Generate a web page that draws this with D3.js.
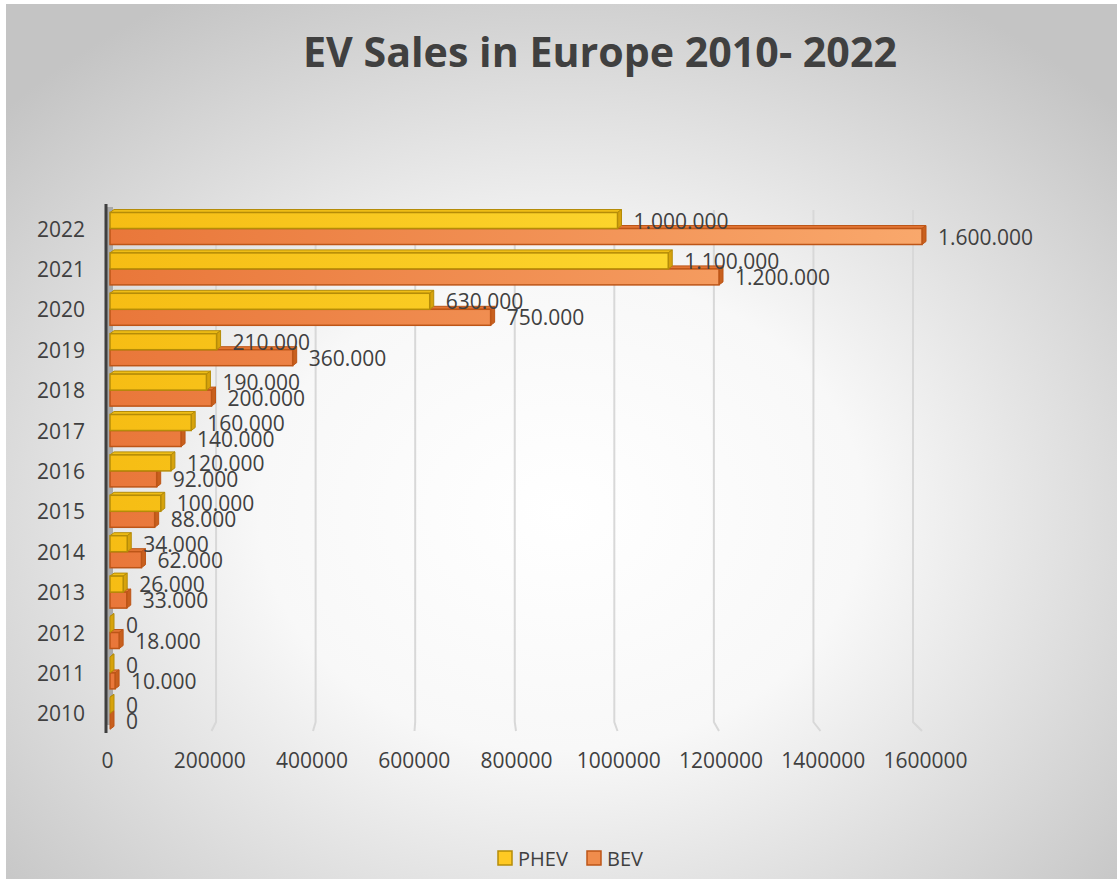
<!DOCTYPE html>
<html>
<head>
<meta charset="utf-8">
<script src="https://cdn.jsdelivr.net/npm/d3@7"></script>
<style>
  body { margin: 0; background: #fff; }
  text { font-family: "Open Sans", sans-serif; fill: #404040; }
</style>
</head>
<body>
<script>
// data
var years = ["2010","2011","2012","2013","2014","2015","2016","2017","2018","2019","2020","2021","2022"];
var phev = [0, 0, 0, 26000, 34000, 100000, 120000, 160000, 190000, 210000, 630000, 1100000, 1000000];
var bev = [0, 10000, 18000, 33000, 62000, 88000, 92000, 140000, 200000, 360000, 750000, 1200000, 1600000];
var seriesNames = ["PHEV", "BEV"];
var xTicks = [0, 200000, 400000, 600000, 800000, 1000000, 1200000, 1400000, 1600000];

var W = 1117, H = 879;
var svg = d3.select("body").append("svg")
  .attr("width", W)
  .attr("height", H);

var defs = svg.append("defs");
var bg = defs.append("radialGradient").attr("id", "bg")
  .attr("cx", "50%").attr("cy", "58%").attr("r", "68%");
bg.append("stop").attr("offset", "0%").attr("stop-color", "#ffffff");
bg.append("stop").attr("offset", "40%").attr("stop-color", "#f8f8f8");
bg.append("stop").attr("offset", "100%").attr("stop-color", "#c4c4c4");

// bar colours, lighter toward the right like the excel lighting
var colors = {
  PHEV: { left: "#f6bd14", right: "#ffe23a", stroke: "#b58c08", side: "#d7a30c", top: "#efbd16" },
  BEV:  { left: "#e9773a", right: "#f9a86c", stroke: "#bd5517", side: "#c8601e", top: "#e27534" }
};
seriesNames.forEach(function(s){
  var g = defs.append("linearGradient").attr("id", "g" + s)
    .attr("gradientUnits", "userSpaceOnUse")
    .attr("x1", 110).attr("x2", 925).attr("y1", 0).attr("y2", 0);
  g.append("stop").attr("offset", "0%").attr("stop-color", colors[s].left);
  g.append("stop").attr("offset", "100%").attr("stop-color", colors[s].right);
});

svg.append("rect")
  .attr("x", 6).attr("y", 4).attr("width", W - 6).attr("height", H - 4)
  .attr("fill", "url(#bg)");

// title
svg.append("text")
  .attr("x", 600).attr("y", 67)
  .attr("text-anchor", "middle")
  .attr("textLength", 594).attr("lengthAdjust", "spacingAndGlyphs")
  .style("font-size", "41px").style("font-weight", "bold")
  .text("EV Sales in Europe 2010- 2022");

// scales: front face, back wall (gridlines) and tick labels differ a bit in the 3d view
var x = d3.scaleLinear().domain([0, 1600000]).range([110, 922]);
var xBack = d3.scaleLinear().domain([0, 1600000]).range([116.5, 913]);
var xLab = d3.scaleLinear().domain([0, 1600000]).range([107, 925]);

var y = d3.scaleBand().domain(years.slice().reverse()).range([208.3, 733.5]);
var ySub = d3.scaleBand().domain(seriesNames).range([0, 32]);

// gridlines on back wall with floor foot
var grid = svg.append("g");
xTicks.slice(1).forEach(function(v){
  grid.append("path")
    .attr("d", "M" + xBack(v) + ",210 L" + xBack(v) + ",722 L" + x(v) + ",731")
    .attr("fill", "none").attr("stroke", "#d8d8d8").attr("stroke-width", 2);
});

// side wall of the axis
svg.append("rect").attr("x", 107).attr("y", 207).attr("width", 6).attr("height", 518)
  .attr("fill", "#a9a9a9");
svg.append("line").attr("x1", 106).attr("x2", 106).attr("y1", 204).attr("y2", 733)
  .attr("stroke", "#3f3f3f").attr("stroke-width", 3);

var rows = [];
years.forEach(function(yr, i){
  rows.push({ year: yr, s: "PHEV", v: phev[i] });
  rows.push({ year: yr, s: "BEV", v: bev[i] });
});
// draw BEV first so the PHEV box sits on top of it
rows.sort(function(a, b){
  if (a.year != b.year) return a.year - b.year;
  return a.s == "BEV" ? -1 : 1;
});

var dx = 4, dy = 3, bh = ySub.bandwidth();
var off = (y.bandwidth() - 32) / 2;

var bars = svg.append("g").selectAll("g.bar")
  .data(rows)
  .enter().append("g").attr("class", "bar");

bars.append("path") // top face
  .attr("d", function(d){
    var yt = y(d.year) + off + ySub(d.s), x0 = x(0), x1 = x(d.v);
    return "M" + x0 + "," + yt + "L" + (x0 + dx) + "," + (yt - dy) + "L" + (x1 + dx) + "," + (yt - dy) + "L" + x1 + "," + yt + "Z";
  })
  .attr("fill", function(d){ return colors[d.s].top; })
  .attr("stroke", function(d){ return colors[d.s].stroke; }).attr("stroke-width", 1);

bars.append("path") // right face
  .attr("d", function(d){
    var yt = y(d.year) + off + ySub(d.s), x1 = x(d.v);
    return "M" + x1 + "," + yt + "L" + (x1 + dx) + "," + (yt - dy) + "L" + (x1 + dx) + "," + (yt + bh - dy) + "L" + x1 + "," + (yt + bh) + "Z";
  })
  .attr("fill", function(d){ return colors[d.s].side; })
  .attr("stroke", function(d){ return colors[d.s].stroke; }).attr("stroke-width", 1);

bars.append("rect") // front face
  .attr("x", x(0))
  .attr("y", function(d){ return y(d.year) + off + ySub(d.s); })
  .attr("width", function(d){ return x(d.v) - x(0); })
  .attr("height", bh)
  .attr("fill", function(d){ return "url(#g" + d.s + ")"; })
  .attr("stroke", function(d){ return colors[d.s].stroke; }).attr("stroke-width", 1.5);

// data labels, european thousands separator
var loc = d3.formatLocale({ decimal: ",", thousands: ".", grouping: [3], currency: ["", "€"] });
var fmt = loc.format(",d");
svg.append("g").selectAll("text")
  .data(rows)
  .enter().append("text")
  .attr("x", function(d){ return x(d.v) + 16; })
  .attr("y", function(d){ return y(d.year) + off + ySub(d.s) + bh / 2; })
  .attr("dominant-baseline", "central")
  .style("font-size", "21px")
  .text(function(d){ return fmt(d.v); });

// y axis (years)
var yAxis = svg.append("g").attr("transform", "translate(85,0)")
  .call(d3.axisLeft(y).tickSize(0).tickPadding(0));
yAxis.select(".domain").remove();
yAxis.selectAll("text")
  .attr("dy", null).attr("dominant-baseline", "central")
  .style("font-size", "21px").attr("fill", "#404040")
  .style("font-family", "'Open Sans', sans-serif");

// x axis ticks
var xAxis = svg.append("g").attr("transform", "translate(0,760)")
  .call(d3.axisBottom(xLab).tickValues(xTicks).tickFormat(d3.format("d")).tickSize(0).tickPadding(0));
xAxis.select(".domain").remove();
xAxis.selectAll("text")
  .attr("y", 0).attr("dy", null).attr("dominant-baseline", "central")
  .style("font-size", "21px").attr("fill", "#404040")
  .style("font-family", "'Open Sans', sans-serif");

// legend
var legX = [498, 587];
var leg = svg.append("g").selectAll("g")
  .data(seriesNames)
  .enter().append("g")
  .attr("transform", function(d, i){ return "translate(" + legX[i] + ",851)"; });
leg.append("rect").attr("width", 14).attr("height", 14)
  .attr("fill", function(d){ return d == "PHEV" ? "#ffc923" : "#f08c4c"; })
  .attr("stroke", function(d){ return colors[d].stroke; }).attr("stroke-width", 1.5);
leg.append("text").attr("x", 20).attr("y", 7)
  .attr("dominant-baseline", "central")
  .style("font-size", "20px")
  .text(function(d){ return d; });
</script>
</body>
</html>
